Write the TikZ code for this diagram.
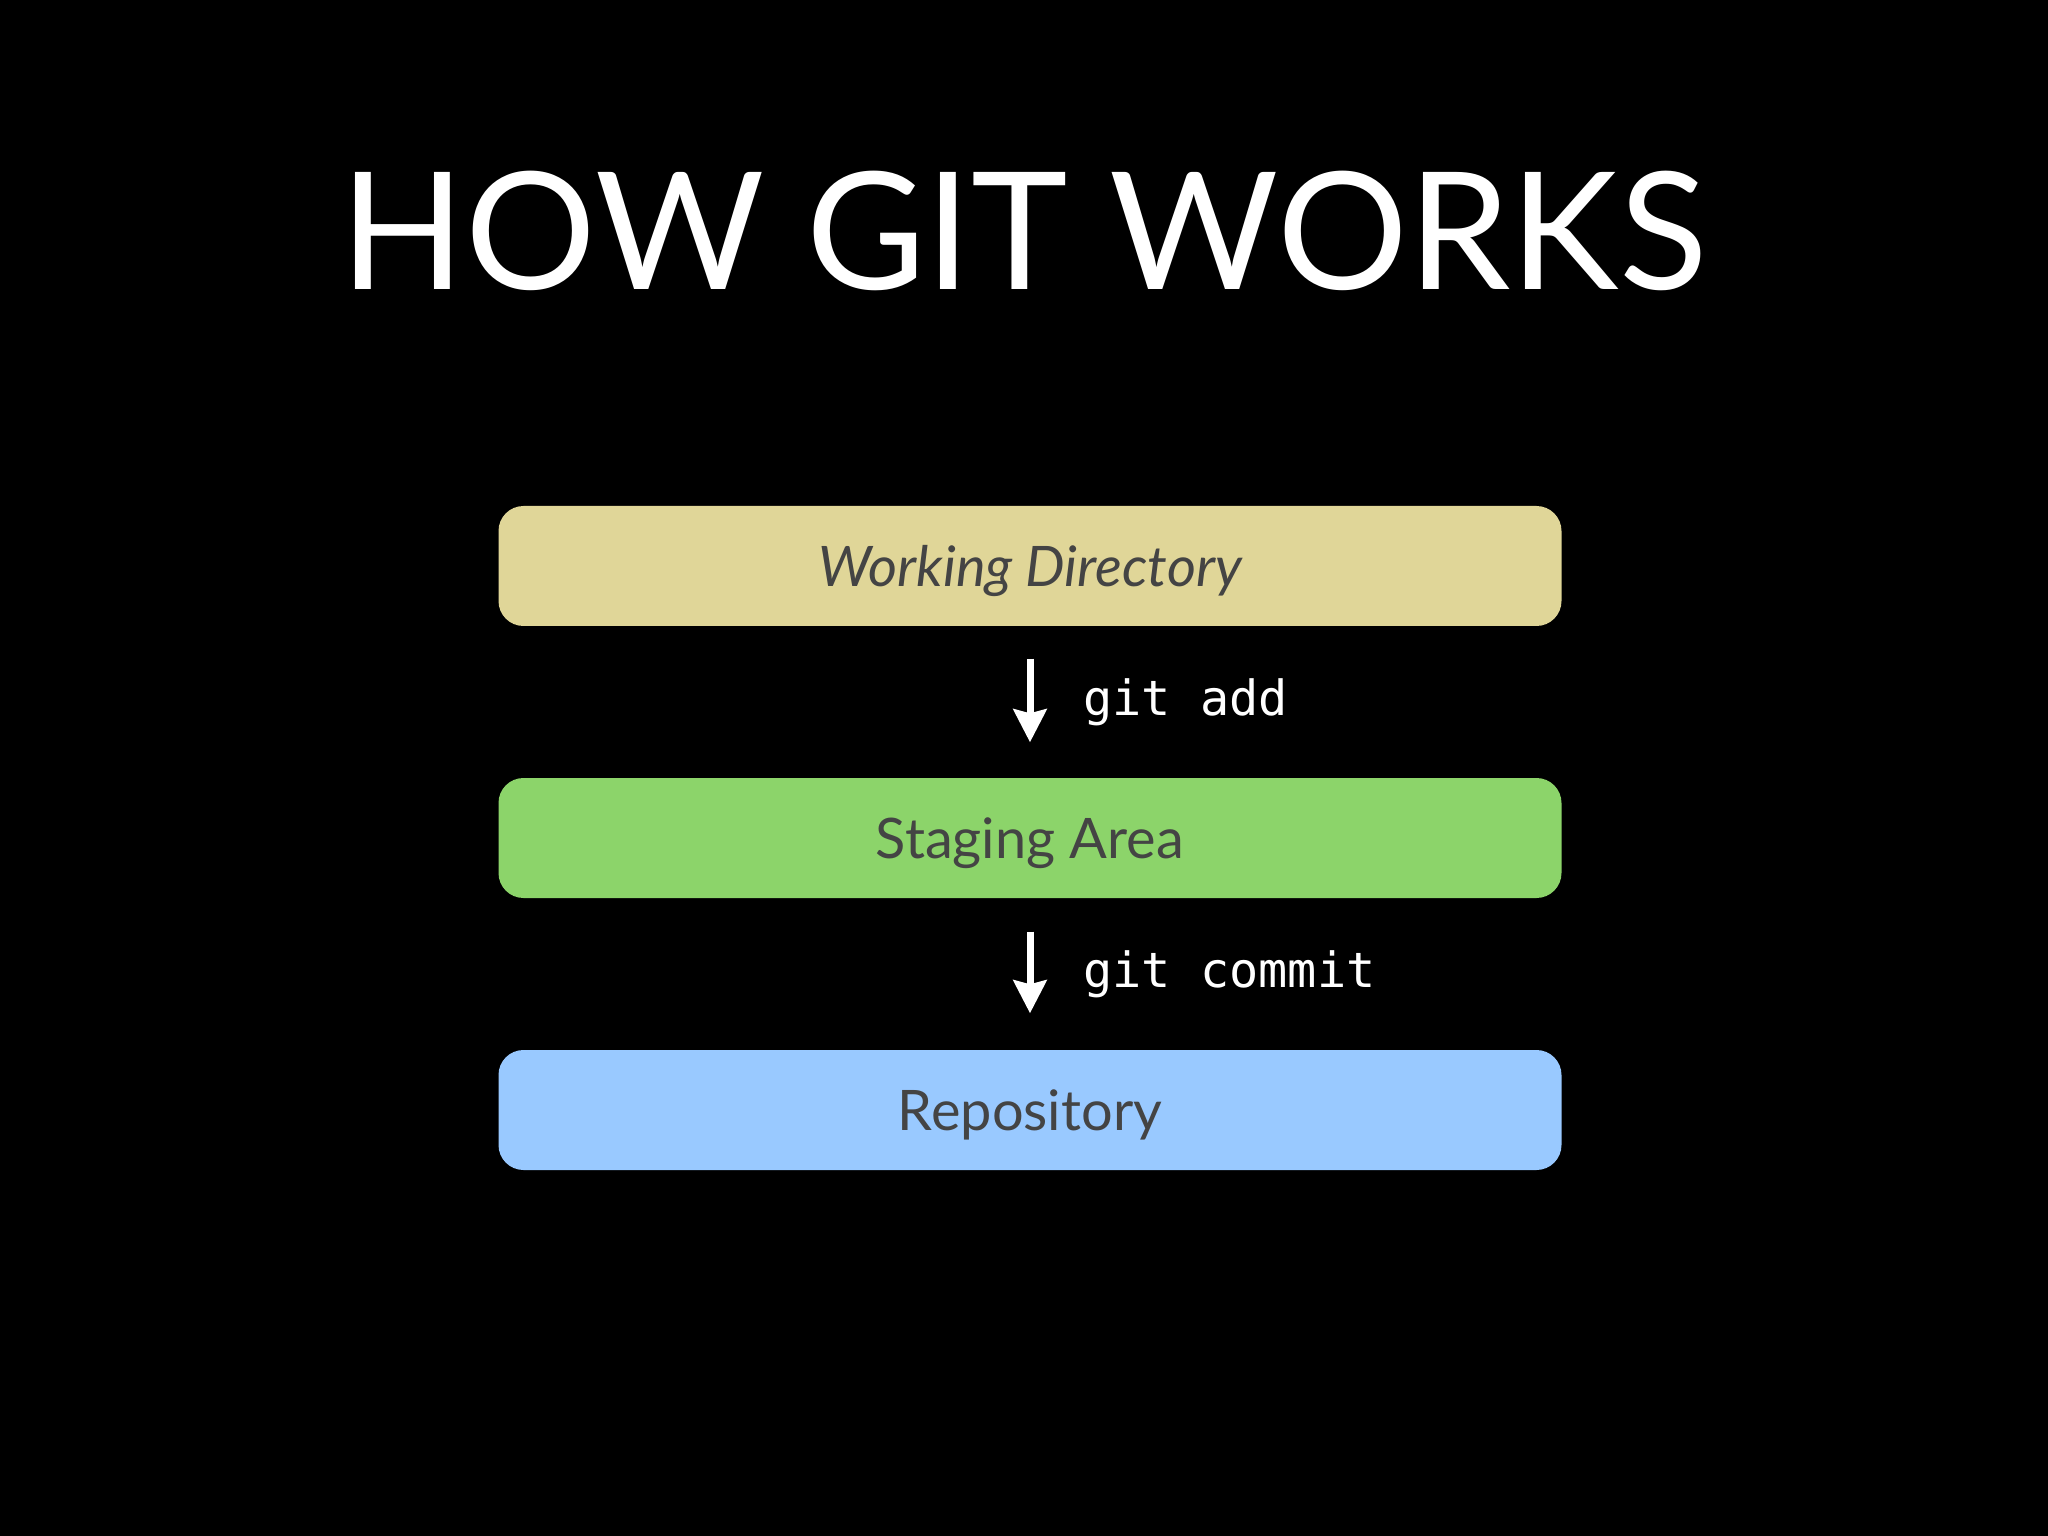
\documentclass[tikz,border=0pt]{standalone}
\usepackage{fontspec}
\setmainfont{Lato}
\setmonofont{DejaVu Sans Mono}
\usetikzlibrary{arrows.meta,positioning}

\definecolor{workcol}{RGB}{224,214,152}
\definecolor{stagecol}{RGB}{140,212,106}
\definecolor{repocol}{RGB}{153,201,255}
\definecolor{labelcol}{RGB}{68,68,68}

\begin{document}
\begin{tikzpicture}[
    area/.style={rounded corners=0.25cm,minimum width=10.63cm,minimum height=1.2cm,inner sep=0pt,
      text height=0.41cm,text depth=0pt,text=labelcol,font=\fontsize{15.9}{19}\selectfont},
    flow/.style={white,line width=0.07cm,-{Stealth[length=0.33cm,width=0.33cm,inset=0.04cm]}},
    cmd/.style={white,inner sep=0pt,font=\ttfamily\fontsize{13.8}{16}\selectfont}]

    \fill[black] (0,0) rectangle (20.48,-15.36);
    \useasboundingbox (0,0) rectangle (20.48,-15.36);

    \node[white,inner sep=0pt,anchor=base,font=\fontsize{46.5}{50}\selectfont] (title) at (10.24,-2.90) {HOW GIT WORKS};

    % the three areas
    \node[area,fill=workcol] (work) at (10.30,-5.66) {\itshape Working Directory};
    \node[area,fill=stagecol] (stage) at (10.30,-8.38) {Staging Area};
    \node[area,fill=repocol] (repo) at (10.30,-11.10) {Repository};

    \draw[flow,shorten <=0.32cm,shorten >=0.35cm] (work) -- (stage)
      node[cmd,midway,right=0.5cm] (add) {git add};
    \draw[flow,shorten <=0.33cm,shorten >=0.36cm] (stage) -- (repo)
      node[cmd,midway,right=0.5cm] (commit) {git commit};

\end{tikzpicture}
\end{document}
